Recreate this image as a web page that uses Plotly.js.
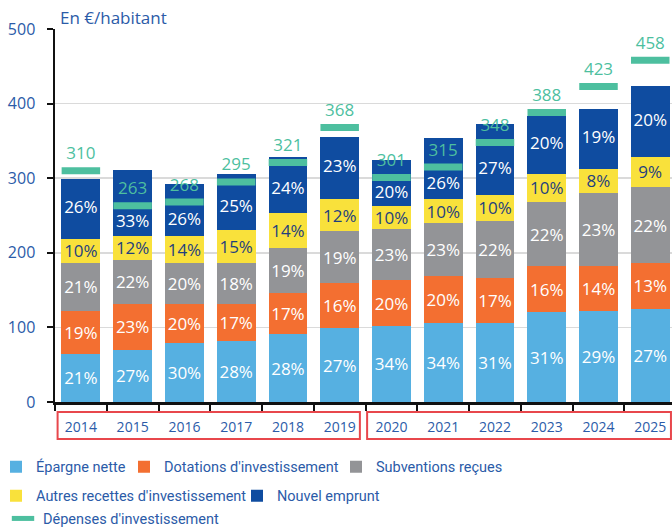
<!DOCTYPE html>
<html>
<head>
<meta charset="utf-8">
<script src="https://cdn.plot.ly/plotly-3.0.1.min.js"></script>
<style>html,body{margin:0;padding:0;background:#fff;}#chart{width:672px;height:529px;}</style>
</head>
<body>
<div id="chart"></div>
<script>
// ---- data ----
const years = ['2014','2015','2016','2017','2018','2019','2020','2021','2022','2023','2024','2025'];
const epargne     = [65, 70, 79, 82, 91, 99, 102, 106, 106, 120, 122, 125];
const dotations   = [57, 62, 52, 50, 55, 60, 61, 63, 60, 62, 60, 61];
const subventions = [65, 59, 55, 55, 61, 70, 69, 71, 77, 86, 98, 102];
const autres      = [31, 32, 37, 43, 46, 43, 31, 32, 35, 38, 33, 41];
const emprunt     = [81, 88, 69, 75, 76, 83, 62, 82, 94, 77, 80, 94];
const depenses    = [310, 263, 268, 295, 321, 368, 301, 315, 348, 388, 423, 458];

const epargnePct     = [21, 27, 30, 28, 28, 27, 34, 34, 31, 31, 29, 27];
const dotationsPct   = [19, 23, 20, 17, 17, 16, 20, 20, 17, 16, 14, 13];
const subventionsPct = [21, 22, 20, 18, 19, 19, 23, 23, 22, 22, 23, 22];
const autresPct      = [10, 12, 14, 15, 14, 12, 10, 10, 10, 10, 8, 9];
const empruntPct     = [26, 33, 26, 25, 24, 23, 20, 26, 27, 20, 19, 20];

const periods = [['2014', '2019'], ['2020', '2025']];

const seriesNames = ['Épargne nette', "Dotations d'investissement", 'Subventions reçues',
  "Autres recettes d'investissement", 'Nouvel emprunt', "Dépenses d'investissement"];
const yTitle = 'En €/habitant';

// ---- styles ----
const BLUE_TXT = '#2b5ba8';
const GREEN = '#4dbf9f';
const FONT = '"Open Sans", sans-serif';
const colors = ['#56b0e1', '#f36f31', '#939497', '#f9e13b', '#0f4ca0'];
const txtColors = ['#ffffff', '#ffffff', '#ffffff', '#1f3f7e', '#ffffff'];
const vals = [epargne, dotations, subventions, autres, emprunt];
const pcts = [epargnePct, dotationsPct, subventionsPct, autresPct, empruntPct];
const legendIds = ['legend', 'legend2', 'legend3', 'legend4', 'legend5', 'legend6'];
const MARKER_HALF = 4.5; // half thickness of the expenditure marker, in data units

const traces = vals.map((v, i) => {
  const t = {
    type: 'bar',
    name: seriesNames[i],
    x: years,
    y: v,
    marker: {color: colors[i], line: {width: 0}},
    legend: legendIds[i],
    hoverinfo: 'x+y+name'
  };
  if (i < 4) {
    Object.assign(t, {
      text: pcts[i],
      texttemplate: '%{text}%',
      textposition: 'inside',
      insidetextanchor: 'middle',
      textangle: 0,
      constraintext: 'none',
      insidetextfont: {family: FONT, size: 17, color: txtColors[i]}
    });
  }
  return t;
});

// labels of the top segment: centred in the part of the segment that lies below the expenditure marker
const empruntBase = years.map((_, k) => epargne[k] + dotations[k] + subventions[k] + autres[k]);
const empruntLabelY = years.map((_, k) => {
  const top = empruntBase[k] + emprunt[k];
  return (empruntBase[k] + Math.min(top, depenses[k] - MARKER_HALF)) / 2;
});
traces.push({
  type: 'scatter',
  mode: 'text',
  x: years,
  y: empruntLabelY,
  text: empruntPct.map(p => p + '%'),
  textposition: 'middle center',
  textfont: {family: FONT, size: 17, color: txtColors[4]},
  showlegend: false,
  hoverinfo: 'skip',
  cliponaxis: false
});

traces.push({
  type: 'scatter',
  mode: 'markers',
  name: seriesNames[5],
  x: years,
  y: depenses,
  marker: {symbol: 'line-ew-open', size: 27.5, color: GREEN, line: {color: GREEN, width: 7}},
  legend: legendIds[5],
  cliponaxis: false
});
traces.push({
  type: 'scatter',
  mode: 'markers+text',
  x: years,
  y: depenses,
  text: depenses.map(String),
  textposition: 'top center',
  textfont: {family: FONT, size: 17, color: GREEN},
  marker: {size: 10, color: 'rgba(0,0,0,0)'},
  showlegend: false,
  hoverinfo: 'skip',
  cliponaxis: false
});

// plot area geometry (pixels)
const L = 55, T = 29, W = 672, H = 529, B = 127, R = 0;
const pw = W - L - R, ph = H - T - B;
const px = p => (p - L) / pw;
const py = p => (H - B - p) / ph;

function legendAt(xpix, ypix) {
  return {
    orientation: 'h', x: px(xpix), xanchor: 'left', y: py(ypix), yanchor: 'middle',
    font: {family: 'Roboto, sans-serif', size: 14.5, color: BLUE_TXT},
    bgcolor: 'rgba(0,0,0,0)', borderwidth: 0
  };
}

const shapes = periods.map((p, k) => ({
  type: 'rect', xref: 'x', yref: 'paper',
  x0: years.indexOf(p[0]) - (k === 0 ? 0.45 : 0.47),
  x1: years.indexOf(p[1]) + (k === 0 ? 0.39 : 0.40),
  y0: py(412), y1: py(439),
  line: {color: '#e8474c', width: 2}, fillcolor: 'rgba(0,0,0,0)'
}));

const layout = {
  width: W, height: H,
  margin: {l: L, r: R, t: T, b: B, autoexpand: false},
  paper_bgcolor: '#fff', plot_bgcolor: '#fff',
  barmode: 'stack',
  bargap: 0.25,
  font: {family: FONT, color: BLUE_TXT},
  xaxis: {
    type: 'category', range: [-0.5, 11.42],
    tickson: 'boundaries', ticks: 'outside', ticklen: 6, tickwidth: 2, tickcolor: '#111',
    showline: true, linecolor: '#111', linewidth: 2.5,
    showgrid: false, zeroline: false,
    tickfont: {family: FONT, size: 14, color: BLUE_TXT},
    ticklabelstandoff: 11
  },
  yaxis: {
    range: [0, 500], dtick: 100, tick0: 0,
    ticks: 'outside', ticklen: 6, tickwidth: 2, tickcolor: '#111',
    showline: true, linecolor: '#111', linewidth: 2.5,
    showgrid: true, gridcolor: '#dadada', gridwidth: 1.5, zeroline: false,
    tickfont: {family: FONT, size: 16, color: BLUE_TXT},
    ticklabelstandoff: 8
  },
  annotations: [{
    text: yTitle, xref: 'paper', yref: 'paper', x: px(58), y: py(17.5),
    xanchor: 'left', yanchor: 'middle', showarrow: false,
    font: {family: FONT, size: 17, color: BLUE_TXT}
  }],
  shapes: shapes,
  legend: legendAt(-4, 466.7),
  legend2: legendAt(124, 466.7),
  legend3: legendAt(336, 466.7),
  legend4: legendAt(-4, 495.7),
  legend5: legendAt(237, 495.7),
  legend6: legendAt(3, 518.5)
};

Plotly.newPlot('chart', traces, layout, {displayModeBar: false, staticPlot: true});
</script>
</body>
</html>
